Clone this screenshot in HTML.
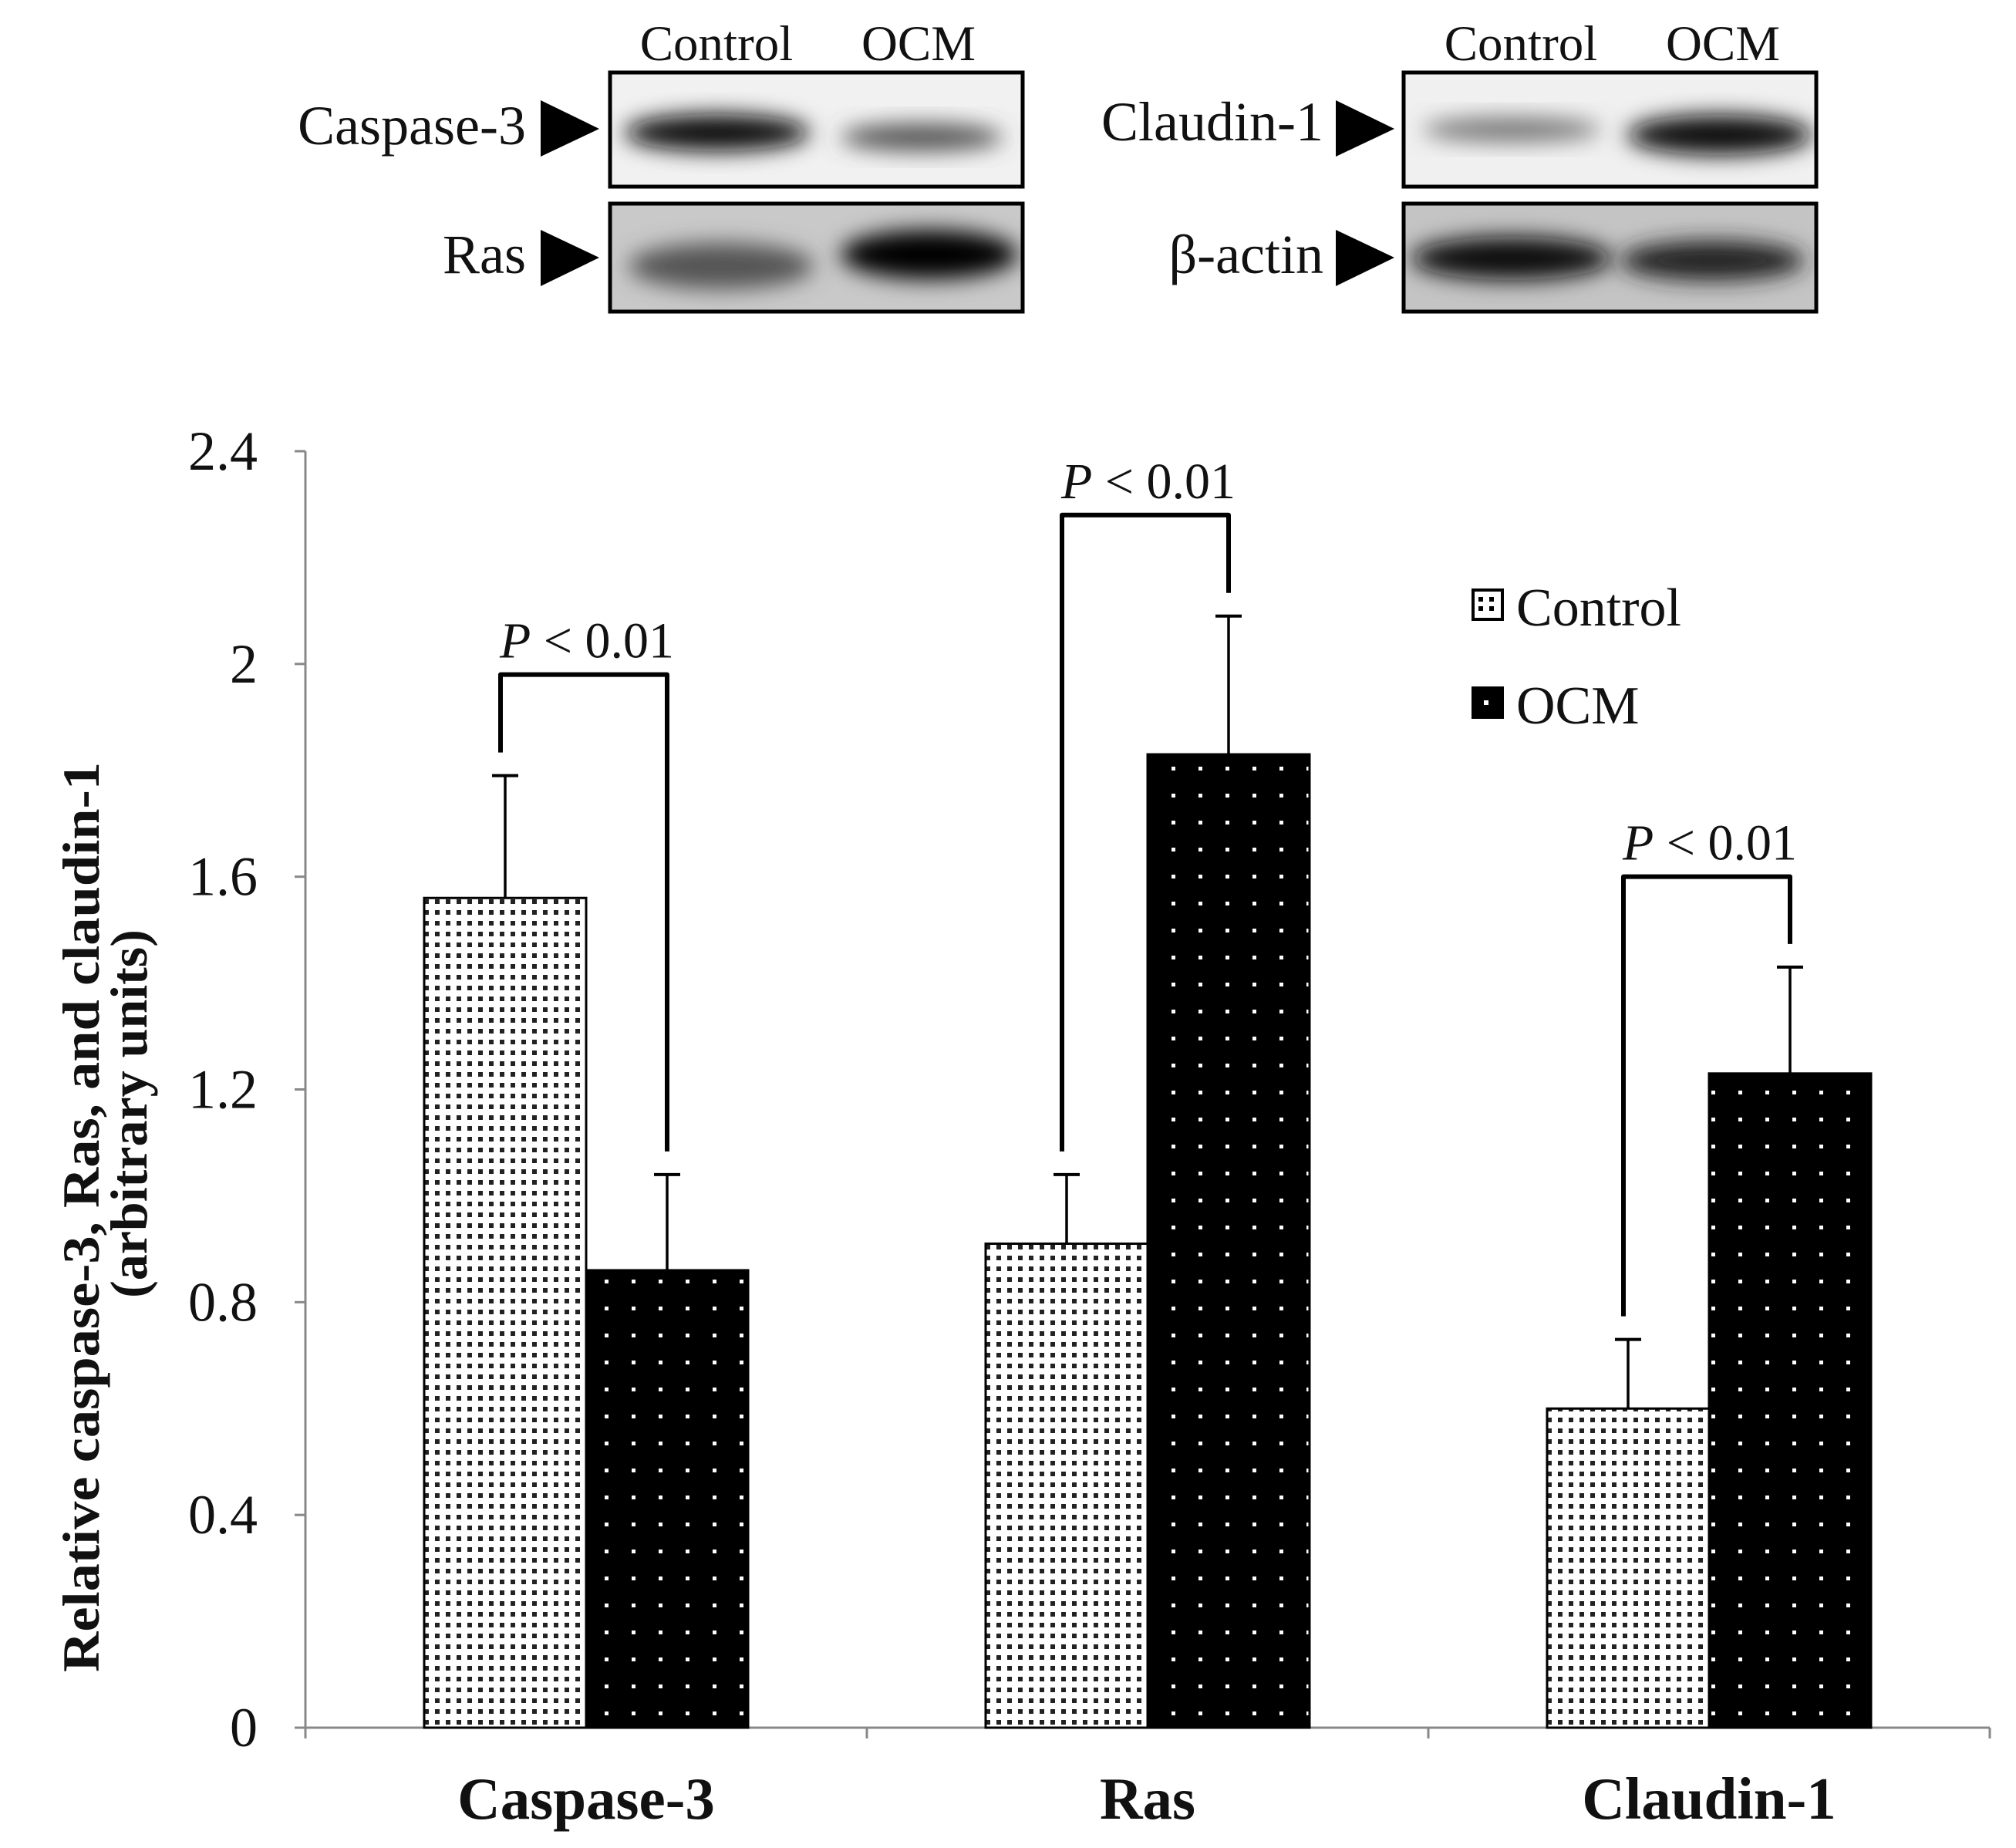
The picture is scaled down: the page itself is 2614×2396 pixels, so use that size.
<!DOCTYPE html>
<html><head><meta charset="utf-8"><style>
html,body{margin:0;padding:0;background:#fff}
svg{display:block}
text{font-family:"Liberation Serif",serif;fill:#111}
</style></head><body>
<svg id="chart" width="2614" height="2396" viewBox="0 0 2614 2396" xmlns="http://www.w3.org/2000/svg">
<defs>
  <pattern id="pCtrl" width="14" height="14" patternUnits="userSpaceOnUse">
    <rect width="14" height="14" fill="#fff"/>
    <rect x="4" y="4" width="6" height="6" fill="#222"/>
  </pattern>
  <pattern id="pOcm" width="35" height="35" patternUnits="userSpaceOnUse">
    <rect width="35" height="35" fill="#000"/>
    <rect x="14" y="14" width="5" height="5" fill="#fff"/>
  </pattern>
  <filter id="blur" x="-30%" y="-60%" width="160%" height="220%"><feGaussianBlur stdDeviation="14"/></filter>
  <clipPath id="c1"><rect x="789" y="92" width="539" height="152"/></clipPath>
  <clipPath id="c2"><rect x="789" y="262" width="539" height="144"/></clipPath>
  <clipPath id="c3"><rect x="1818" y="92" width="539" height="152"/></clipPath>
  <clipPath id="c4"><rect x="1818" y="262" width="539" height="144"/></clipPath>
</defs>

<g>
  <text x="929" y="78" font-size="65" text-anchor="middle">Control</text>
  <text x="1191" y="78" font-size="65" text-anchor="middle">OCM</text>
  <text x="682" y="187" font-size="72" text-anchor="end">Caspase-3</text>
  <polygon points="701,130 701,203 777,167" fill="#000"/>
  <text x="682" y="354" font-size="72" text-anchor="end">Ras</text>
  <polygon points="701,298 701,371 777,334" fill="#000"/>
  <g clip-path="url(#c1)">
    <rect x="789" y="92" width="539" height="152" fill="#f1f1f1"/>
    <ellipse cx="930" cy="172" rx="120" ry="24" fill="#111" filter="url(#blur)"/>
    <ellipse cx="1195" cy="178" rx="105" ry="18" fill="#555" filter="url(#blur)"/>
  </g>
  <rect x="791" y="94" width="535" height="148" fill="none" stroke="#000" stroke-width="5"/>
  <g clip-path="url(#c2)">
    <rect x="789" y="262" width="539" height="144" fill="#c9c9c9"/>
    <ellipse cx="935" cy="345" rx="120" ry="30" fill="#555" filter="url(#blur)"/>
    <ellipse cx="1205" cy="330" rx="115" ry="32" fill="#000" filter="url(#blur)"/>
  </g>
  <rect x="791" y="264" width="535" height="140" fill="none" stroke="#000" stroke-width="5"/>
</g>
<g>
  <text x="1972" y="78" font-size="65" text-anchor="middle">Control</text>
  <text x="2234" y="78" font-size="65" text-anchor="middle">OCM</text>
  <text x="1716" y="182" font-size="72" text-anchor="end">Claudin-1</text>
  <polygon points="1732,130 1732,203 1808,167" fill="#000"/>
  <text x="1716" y="354" font-size="72" text-anchor="end">β-actin</text>
  <polygon points="1732,298 1732,371 1808,334" fill="#000"/>
  <g clip-path="url(#c3)">
    <rect x="1818" y="92" width="539" height="152" fill="#f0f0f0"/>
    <ellipse cx="1960" cy="168" rx="115" ry="16" fill="#777" filter="url(#blur)"/>
    <ellipse cx="2230" cy="175" rx="120" ry="26" fill="#111" filter="url(#blur)"/>
  </g>
  <rect x="1820" y="94" width="535" height="148" fill="none" stroke="#000" stroke-width="5"/>
  <g clip-path="url(#c4)">
    <rect x="1818" y="262" width="539" height="144" fill="#c4c4c4"/>
    <ellipse cx="1960" cy="335" rx="130" ry="28" fill="#111" filter="url(#blur)"/>
    <ellipse cx="2220" cy="338" rx="120" ry="26" fill="#222" filter="url(#blur)"/>
  </g>
  <rect x="1820" y="264" width="535" height="140" fill="none" stroke="#000" stroke-width="5"/>
</g>

<g id="plot"></g>
</svg>
<script>
const categories = ["Caspase-3", "Ras", "Claudin-1"];
const controlValues = [1.56, 0.91, 0.60];
const ocmValues = [0.86, 1.83, 1.23];
const controlErrTop = [1.79, 1.04, 0.73];
const ocmErrTop = [1.04, 2.09, 1.43];
const bracketLevels = [1.98, 2.28, 1.60];
const yTicks = [0, 0.4, 0.8, 1.2, 1.6, 2, 2.4];
const yTickLabels = ["0", "0.4", "0.8", "1.2", "1.6", "2", "2.4"];
const seriesNames = ["Control", "OCM"];

const NS = "http://www.w3.org/2000/svg";
const X0 = 396, X1 = 2580, Y0 = 2240, YTOP = 585, YMAX = 2.4;
const groupW = (X1 - X0) / categories.length;
const barW = 210;
function y(v) { return Y0 - (v / YMAX) * (Y0 - YTOP); }
function gx(i) { return X0 + groupW * (i + 0.5); }
function mk(tag, attrs, parent) {
  const e = document.createElementNS(NS, tag);
  for (const k in attrs) e.setAttribute(k, attrs[k]);
  parent.appendChild(e);
  return e;
}
const plot = document.getElementById("plot");

let ax = mk("line", {x1: X0, y1: YTOP, x2: X0, y2: Y0, stroke: "#888", "stroke-width": 3}, plot);


let axx = mk("line", {x1: X0, y1: Y0, x2: X1, y2: Y0, stroke: "#888", "stroke-width": 3}, plot);



yTicks.forEach((t, i) => {
  const tk = mk("line", {x1: X0 - 14, y1: y(t), x2: X0, y2: y(t), stroke: "#888", "stroke-width": 3}, plot);
  
  
  const tl = mk("text", {x: 334, y: y(t) + 24, "font-size": 72, "text-anchor": "end"}, plot);
  tl.textContent = yTickLabels[i];
  
  
});
for (let i = 0; i <= categories.length; i++) {
  const xx = X0 + groupW * i;
  const tk = mk("line", {x1: xx, y1: Y0, x2: xx, y2: Y0 + 14, stroke: "#888", "stroke-width": 3}, plot);
  
  
}

categories.forEach((c, i) => {
  const cx = gx(i);
  const xc = cx - barW, xo = cx;
  [[xc, controlErrTop[i], controlValues[i]], [xo, ocmErrTop[i], ocmValues[i]]].forEach(([bx, et, v], s) => {
    const sx = bx + barW / 2;
    const st = mk("line", {x1: sx, y1: y(et), x2: sx, y2: y(v), stroke: "#000", "stroke-width": 3.5}, plot);
    
    
    const cap = mk("line", {x1: sx - 17, y1: y(et), x2: sx + 17, y2: y(et), stroke: "#000", "stroke-width": 4}, plot);
    
    
  });
  const b1 = mk("rect", {x: xc, y: y(controlValues[i]), width: barW, height: Y0 - y(controlValues[i]), fill: "url(#pCtrl)", stroke: "#000", "stroke-width": 3}, plot);
  
  
  const b2 = mk("rect", {x: xo, y: y(ocmValues[i]), width: barW, height: Y0 - y(ocmValues[i]), fill: "url(#pOcm)", stroke: "#000", "stroke-width": 3}, plot);
  
  

  const lx = xc + barW / 2 - 6, rx = xo + barW / 2;
  const by = y(bracketLevels[i]);
  const br = mk("path", {d: `M${lx},${y(controlErrTop[i]) - 30} V${by} H${rx} V${y(ocmErrTop[i]) - 30}`, fill: "none", stroke: "#000", "stroke-width": 6, "stroke-linejoin": "round"}, plot);
  
  
  const pt = mk("text", {x: (lx + rx) / 2 + 4, y: by - 22, "font-size": 66, "text-anchor": "middle"}, plot);
  pt.innerHTML = '<tspan font-style="italic">P</tspan> &lt; 0.01';
  
  

  const cl = mk("text", {x: cx, y: 2358, "font-size": 77, "font-weight": "bold", "text-anchor": "middle"}, plot);
  cl.textContent = c;
  
  
});

const yt = mk("text", {transform: "translate(128,1578) rotate(-90)", "font-size": 68, "font-weight": "bold", "text-anchor": "middle", "textLength": 1180, "lengthAdjust": "spacingAndGlyphs"}, plot);
yt.textContent = "Relative caspase-3, Ras, and claudin-1";


const yt2 = mk("text", {transform: "translate(190,1444) rotate(-90)", "font-size": 68, "font-weight": "bold", "text-anchor": "middle"}, plot);
yt2.textContent = "(arbitrary units)";



const legY = [765, 892];
seriesNames.forEach((n, i) => {
  const sq = mk("rect", {x: 1910, y: legY[i], width: 38, height: 38, fill: i === 0 ? "#fff" : "#000", stroke: "#000", "stroke-width": 4}, plot);
  
  
  if (i === 0) {
    [[1917, 774], [1931, 774], [1917, 786], [1931, 786]].forEach(([dx, dy]) => {
      const d = mk("rect", {x: dx, y: dy, width: 6, height: 6, fill: "#000"}, plot);
      
      
    });
  } else {
    const dot = mk("rect", {x: 1924, y: legY[i] + 16, width: 6, height: 6, fill: "#fff"}, plot);
    
    
  }
  const lt = mk("text", {x: 1966, y: legY[i] + 46, "font-size": 70}, plot);
  lt.textContent = n;
  
  
});
</script>
</body></html>
